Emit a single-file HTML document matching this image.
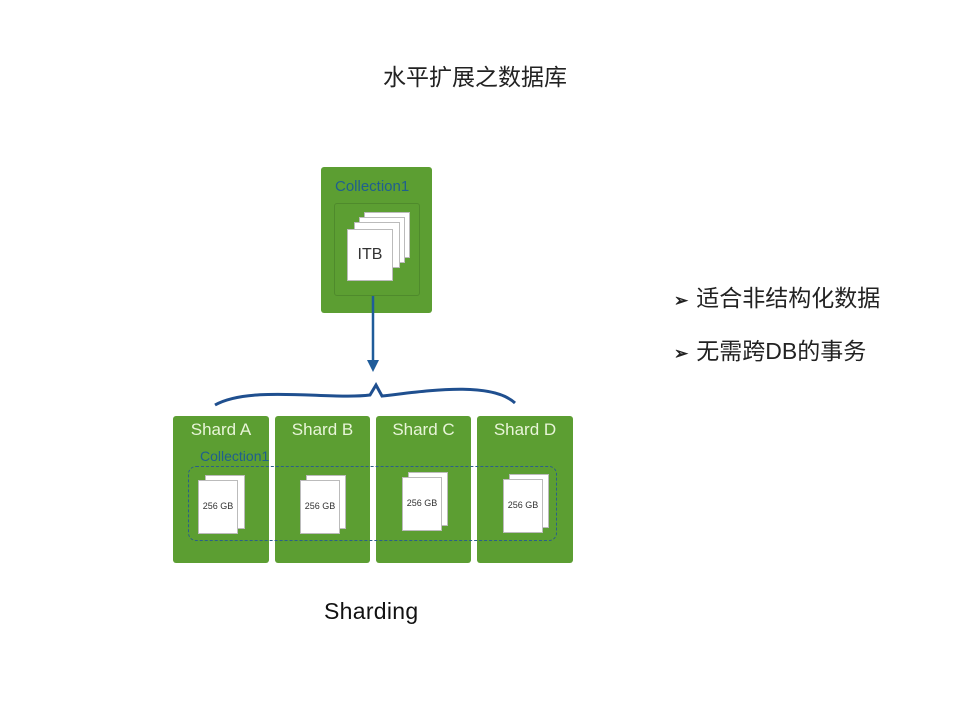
<!DOCTYPE html>
<html><head><meta charset="utf-8"><style>
body{margin:0;width:960px;height:720px;background:#fff;position:relative;overflow:hidden;font-family:"Liberation Sans","Noto Sans CJK SC",sans-serif}
.a{position:absolute}
.g{background:#5c9e32;border-radius:3px}
.sh{color:#e8f5d8;font-size:17px;text-align:center;top:4px;width:100%}
.pg{background:#fff;border:1px solid #bbb}
.doc{font-size:9px;color:#333;line-height:50px;text-align:center}
</style></head><body>
<div class="a" style="left:383px;top:58px;font-size:23px;color:#222">水平扩展之数据库</div>

<div class="a g" style="left:321px;top:167px;width:111px;height:146px"></div>
<div class="a" style="left:335px;top:178px;color:#1f5f8f;font-size:15px">Collection1</div>
<div class="a" style="left:334px;top:203px;width:84px;height:91px;border:1px solid #4f8a2c;border-radius:3px"></div>
<div class="a pg" style="left:364px;top:212px;width:44px;height:44px"></div>
<div class="a pg" style="left:359px;top:217px;width:44px;height:44px"></div>
<div class="a pg" style="left:354px;top:222px;width:44px;height:44px"></div>
<div class="a pg" style="left:347px;top:229px;width:44px;height:50px;font-size:16px;color:#333;text-align:center;line-height:50px">ITB</div>

<svg class="a" style="left:0;top:0" width="960" height="720">
<line x1="373" y1="296" x2="373" y2="362" stroke="#1f5c9a" stroke-width="2.5"/>
<polygon points="367,360 379,360 373,372" fill="#1f5c9a"/>
<path d="M215,405 C250,385 330,400 370,395 L376,385 L382,396 C420,392 490,380 515,403" fill="none" stroke="#1f4f8f" stroke-width="3"/>
</svg>

<div class="a g" style="left:173px;top:416px;width:96px;height:147px"><div class="a sh">Shard A</div></div>
<div class="a g" style="left:275px;top:416px;width:95px;height:147px"><div class="a sh">Shard B</div></div>
<div class="a g" style="left:376px;top:416px;width:95px;height:147px"><div class="a sh">Shard C</div></div>
<div class="a g" style="left:477px;top:416px;width:96px;height:147px"><div class="a sh">Shard D</div></div>
<div class="a" style="left:200px;top:448px;color:#1f5f8f;font-size:14px">Collection1</div>
<div class="a" style="left:188px;top:466px;width:367px;height:73px;border:1.5px dashed #2a5f8a;border-radius:8px"></div>

<div class="a pg" style="left:205px;top:475px;width:38px;height:52px"></div>
<div class="a pg doc" style="left:198px;top:480px;width:38px;height:52px">256 GB</div>
<div class="a pg" style="left:306px;top:475px;width:38px;height:52px"></div>
<div class="a pg doc" style="left:300px;top:480px;width:38px;height:52px">256 GB</div>
<div class="a pg" style="left:408px;top:472px;width:38px;height:52px"></div>
<div class="a pg doc" style="left:402px;top:477px;width:38px;height:52px">256 GB</div>
<div class="a pg" style="left:509px;top:474px;width:38px;height:52px"></div>
<div class="a pg doc" style="left:503px;top:479px;width:38px;height:52px">256 GB</div>

<div class="a" style="left:324px;top:598px;font-size:23px;color:#111;letter-spacing:0.3px">Sharding</div>

<div class="a" style="left:674px;top:279px;font-size:23px;color:#222"><b style="font-size:17px;margin-right:8px">➢</b>适合非结构化数据</div>
<div class="a" style="left:674px;top:332px;font-size:23px;color:#222"><b style="font-size:17px;margin-right:8px">➢</b>无需跨DB的事务</div>
</body></html>
